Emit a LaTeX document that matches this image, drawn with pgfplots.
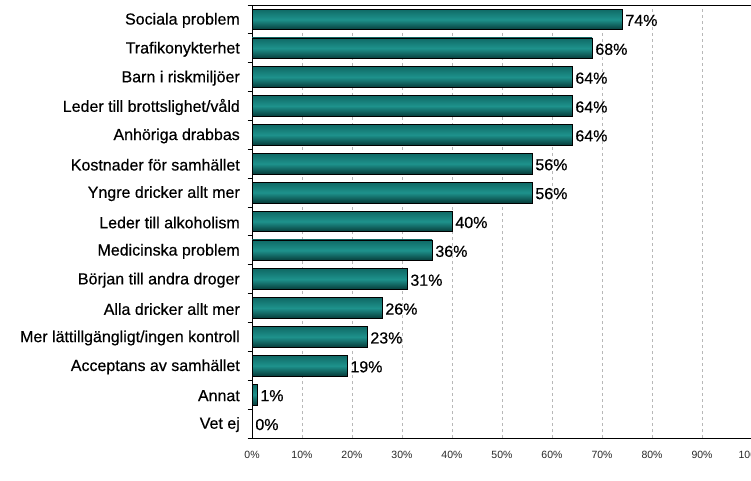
\documentclass[border=0pt]{standalone}
\usepackage{pgfplots}
\pgfplotsset{compat=1.18}
\usepackage{fontspec}
\setmainfont{Liberation Sans}
\newfontfamily\lblfont[FakeBold=0.5]{Liberation Sans}
\definecolor{barmid}{HTML}{1E928C}
\definecolor{bartop}{HTML}{0F6965}
\definecolor{barbot}{HTML}{063A38}
\definecolor{gridc}{HTML}{B8B8B8}
\pgfplotsset{mybar/.style={draw=black, line width=0.8pt, top color=bartop, bottom color=barbot, middle color=barmid}}
\begin{document}
\begin{tikzpicture}[x=1pt,y=1pt]
\path[use as bounding box] (0,0) rectangle (751,480);
\clip (0,0) rectangle (751,480);
\begin{axis}[
  at={(252pt,42pt)}, anchor=south west,
  scale only axis, width=500pt, height=433pt,
  xmin=0, xmax=100, ymin=-0.5, ymax=14.5,
  axis line style={black, line width=0.9pt},
  xtick={0,10,...,100},
  xticklabel={\pgfmathprintnumber{\tick}\%},
  /pgf/number format/assume math mode=true,
  x tick label style={font=\fontsize{10.5}{12}\selectfont, inner sep=0pt, yshift=-12.5pt, text=black!85},
  ytick={0,...,14},
  yticklabels={Vet ej, Annat, Acceptans av samhället, Mer lättillgängligt/ingen kontroll, Alla dricker allt mer, Början till andra droger, Medicinska problem, Leder till alkoholism, Yngre dricker allt mer, Kostnader för samhället, Anhöriga drabbas, Leder till brottslighet/våld, Barn i riskmiljöer, Trafikonykterhet, Sociala problem},
  y tick label style={font=\lblfont\fontsize{16}{18}\selectfont, anchor=east, inner sep=0pt, xshift=-12pt, yshift=-1pt},
  major tick length=0pt,
  extra y ticks={-0.5,0.5,1.5,2.5,3.5,4.5,5.5,6.5,7.5,8.5,9.5,10.5,11.5,12.5,13.5,14.5},
  extra y tick labels={},
  extra y tick style={major tick length=4.5pt, tick align=outside, tick style={black, line width=0.9pt}},
  ytick pos=left, xtick pos=bottom,
  xmajorgrids, ymajorgrids=false,
  major grid style={gridc, line width=0.6pt, dash pattern=on 3pt off 3pt},
  xbar, bar width=0.72, bar shift=0pt,
  point meta=x,
  nodes near coords={\pgfmathprintnumber{\pgfplotspointmeta}\%},
  nodes near coords style={anchor=west, font=\lblfont\fontsize{16}{18}\selectfont, inner sep=0pt, xshift=3pt, yshift=-1pt, text=black},
]
\addplot[mybar] coordinates {(0,0)};
\addplot[mybar] coordinates {(1,1)};
\addplot[mybar] coordinates {(19,2)};
\addplot[mybar] coordinates {(23,3)};
\addplot[mybar] coordinates {(26,4)};
\addplot[mybar] coordinates {(31,5)};
\addplot[mybar] coordinates {(36,6)};
\addplot[mybar] coordinates {(40,7)};
\addplot[mybar] coordinates {(56,8)};
\addplot[mybar] coordinates {(56,9)};
\addplot[mybar] coordinates {(64,10)};
\addplot[mybar] coordinates {(64,11)};
\addplot[mybar] coordinates {(64,12)};
\addplot[mybar] coordinates {(68,13)};
\addplot[mybar] coordinates {(74,14)};
\end{axis}
\end{tikzpicture}
\end{document}
